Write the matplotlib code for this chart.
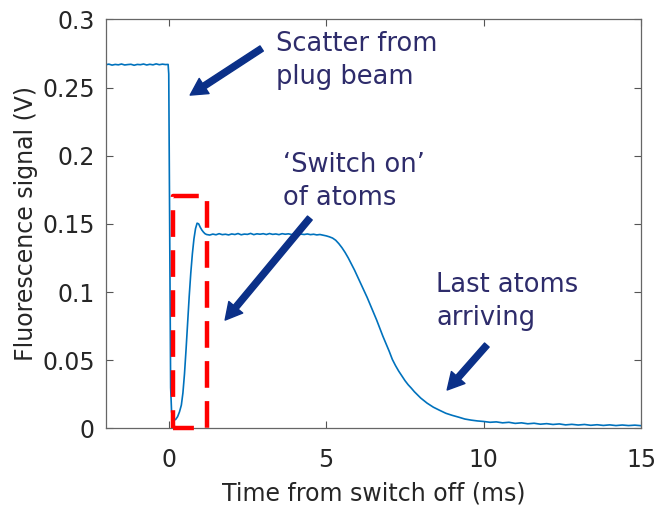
import numpy as np
import matplotlib
matplotlib.use('Agg')
import matplotlib.pyplot as plt

# fluorescence trace (time in ms, signal in V)
time_ms = [-2.0, -1.9, -1.8, -1.7, -1.6, -1.5, -1.4, -1.3, -1.2, -1.1, -1.0,
           -0.9, -0.8, -0.7, -0.6, -0.5, -0.4, -0.3, -0.2, -0.1, -0.02,
           0.0, 0.03, 0.06, 0.09, 0.13, 0.17, 0.22, 0.28, 0.34, 0.40, 0.45,
           0.50, 0.55, 0.60, 0.65, 0.70, 0.75, 0.80, 0.85, 0.90, 0.95, 1.00,
           1.05, 1.10, 1.15, 1.2,
           1.3, 1.4, 1.5, 1.6, 1.7, 1.8, 1.9, 2.0, 2.1, 2.2, 2.3, 2.4, 2.5,
           2.6, 2.7, 2.8, 2.9, 3.0, 3.1, 3.2, 3.3, 3.4, 3.5, 3.6, 3.7, 3.8,
           3.9, 4.0, 4.1, 4.2, 4.3, 4.4, 4.5, 4.6, 4.7, 4.8, 4.9, 5.0, 5.1,
           5.2, 5.3, 5.4, 5.5, 5.6, 5.7, 5.8, 5.9, 6.0, 6.1, 6.2, 6.3, 6.4,
           6.5, 6.6, 6.7, 6.8, 6.9, 7.0, 7.1, 7.2, 7.3, 7.4, 7.5, 7.6, 7.7,
           7.8, 7.9, 8.0, 8.2, 8.4, 8.6, 8.8, 9.0, 9.2, 9.4, 9.6, 9.8, 10.0,
           10.2, 10.4, 10.6, 10.8, 11.0, 11.2, 11.4, 11.6, 11.8, 12.0, 12.2,
           12.4, 12.6, 12.8, 13.0, 13.2, 13.4, 13.6, 13.8, 14.0, 14.2, 14.4,
           14.6, 14.8, 15.0]
signal_v = [0.2668, 0.2672, 0.2665, 0.2670, 0.2667, 0.2673, 0.2666, 0.2669,
            0.2671, 0.2664, 0.2670, 0.2668, 0.2673, 0.2666, 0.2671, 0.2667,
            0.2674, 0.2668, 0.2672, 0.2669, 0.2670,
            0.2600, 0.1500, 0.0300, 0.0120, 0.0075, 0.0060, 0.0065, 0.0085,
            0.0120, 0.0170, 0.0260, 0.0400, 0.0580, 0.0780, 0.0970, 0.1140,
            0.1280, 0.1390, 0.1465, 0.1505, 0.1500, 0.1475, 0.1455, 0.1440,
            0.1428, 0.1422,
            0.1418, 0.1425, 0.1420, 0.1428, 0.1421, 0.1424, 0.1419, 0.1426,
            0.1422, 0.1429, 0.1420, 0.1425, 0.1423, 0.1430, 0.1421, 0.1427,
            0.1424, 0.1428, 0.1422, 0.1429, 0.1423, 0.1426, 0.1421, 0.1428,
            0.1424, 0.1427, 0.1422, 0.1426, 0.1420, 0.1425, 0.1422, 0.1426,
            0.1421, 0.1424, 0.1419, 0.1422, 0.1417, 0.1412, 0.1405, 0.1396,
            0.1380, 0.1355, 0.1325, 0.1290, 0.1250, 0.1205, 0.1160, 0.1110,
            0.1060, 0.1010, 0.0960, 0.0905, 0.0850, 0.0795, 0.0735, 0.0675,
            0.0620, 0.0565, 0.0505, 0.0460, 0.0420, 0.0385, 0.0350, 0.0320,
            0.0295, 0.0268, 0.0245, 0.0222, 0.0185, 0.0155, 0.0132, 0.0110,
            0.0095, 0.0082, 0.0068, 0.0060, 0.0054, 0.0050,
            0.0044, 0.0047, 0.0040, 0.0044, 0.0036, 0.0040, 0.0033, 0.0037,
            0.0030, 0.0034, 0.0028, 0.0032, 0.0025, 0.0029, 0.0024, 0.0028,
            0.0022, 0.0026, 0.0021, 0.0025, 0.0020, 0.0024, 0.0020, 0.0023,
            0.0019]

# dashed box around the switch-on dip
box_t = [0.12, 1.22]
box_v = [0.0, 0.1706]

xticks = [0, 5, 10, 15]
yticks = [0, 0.05, 0.1, 0.15, 0.2, 0.25, 0.3]
ytick_labels = ['0', '0.05', '0.1', '0.15', '0.2', '0.25', '0.3']

notes = [
    (['Scatter from', 'plug beam'], (3.40, 0.2770), (2.95, 0.2787), (0.68, 0.2445)),
    (['\u2018Switch on\u2019', 'of atoms'], (3.62, 0.1880), (4.48, 0.1543), (1.79, 0.0794)),
    (['Last atoms', 'arriving'], (8.50, 0.1000), (10.10, 0.0611), (8.84, 0.0281)),
]

fig = plt.figure(figsize=(6.61, 5.12), dpi=100)
ax = fig.add_axes([0.160, 0.1635, 0.810, 0.7985])

ax.plot(time_ms, signal_v, color='#0072BD', lw=1.2)

# red dashed rectangle
bx = [box_t[0], box_t[0], box_t[1], box_t[1], box_t[0]]
by = [box_v[0], box_v[1], box_v[1], box_v[0], box_v[0]]
ax.plot(bx, by, color='#FF0000', lw=3.2, ls=(2, (6, 3)), clip_on=False, zorder=3)

txt_col = '#2E2C6B'
arr_col = '#0B3088'
line_gap = 0.0240
for lines, pos, tail, tip in notes:
    for k, s in enumerate(lines):
        ax.text(pos[0], pos[1] - k * line_gap, s, fontsize=18.5, color=txt_col,
                ha='left', va='baseline')
    ax.annotate('', xy=tip, xytext=tail,
                arrowprops=dict(arrowstyle='simple,head_length=0.6,head_width=0.65,tail_width=0.22',
                                color=arr_col, shrinkA=0, shrinkB=0, mutation_scale=20))

ax.set_xlim(-2, 15)
ax.set_ylim(0, 0.3)
ax.set_xticks(xticks)
ax.set_yticks(yticks)
ax.set_yticklabels(ytick_labels)
ax.tick_params(direction='in', top=True, right=True, length=5, width=0.8,
               color='#555555', labelsize=17, labelcolor='#262626')
ax.tick_params(axis='x', pad=14)
ax.tick_params(axis='y', pad=8)
for sp in ax.spines.values():
    sp.set_color('#666666')
    sp.set_linewidth(0.9)

ax.set_xlabel('Time from switch off (ms)', fontsize=17, color='#262626', labelpad=7)
ax.set_ylabel('Fluorescence signal (V)', fontsize=17, color='#262626', labelpad=3)

fig.savefig('out.png', dpi=100)
